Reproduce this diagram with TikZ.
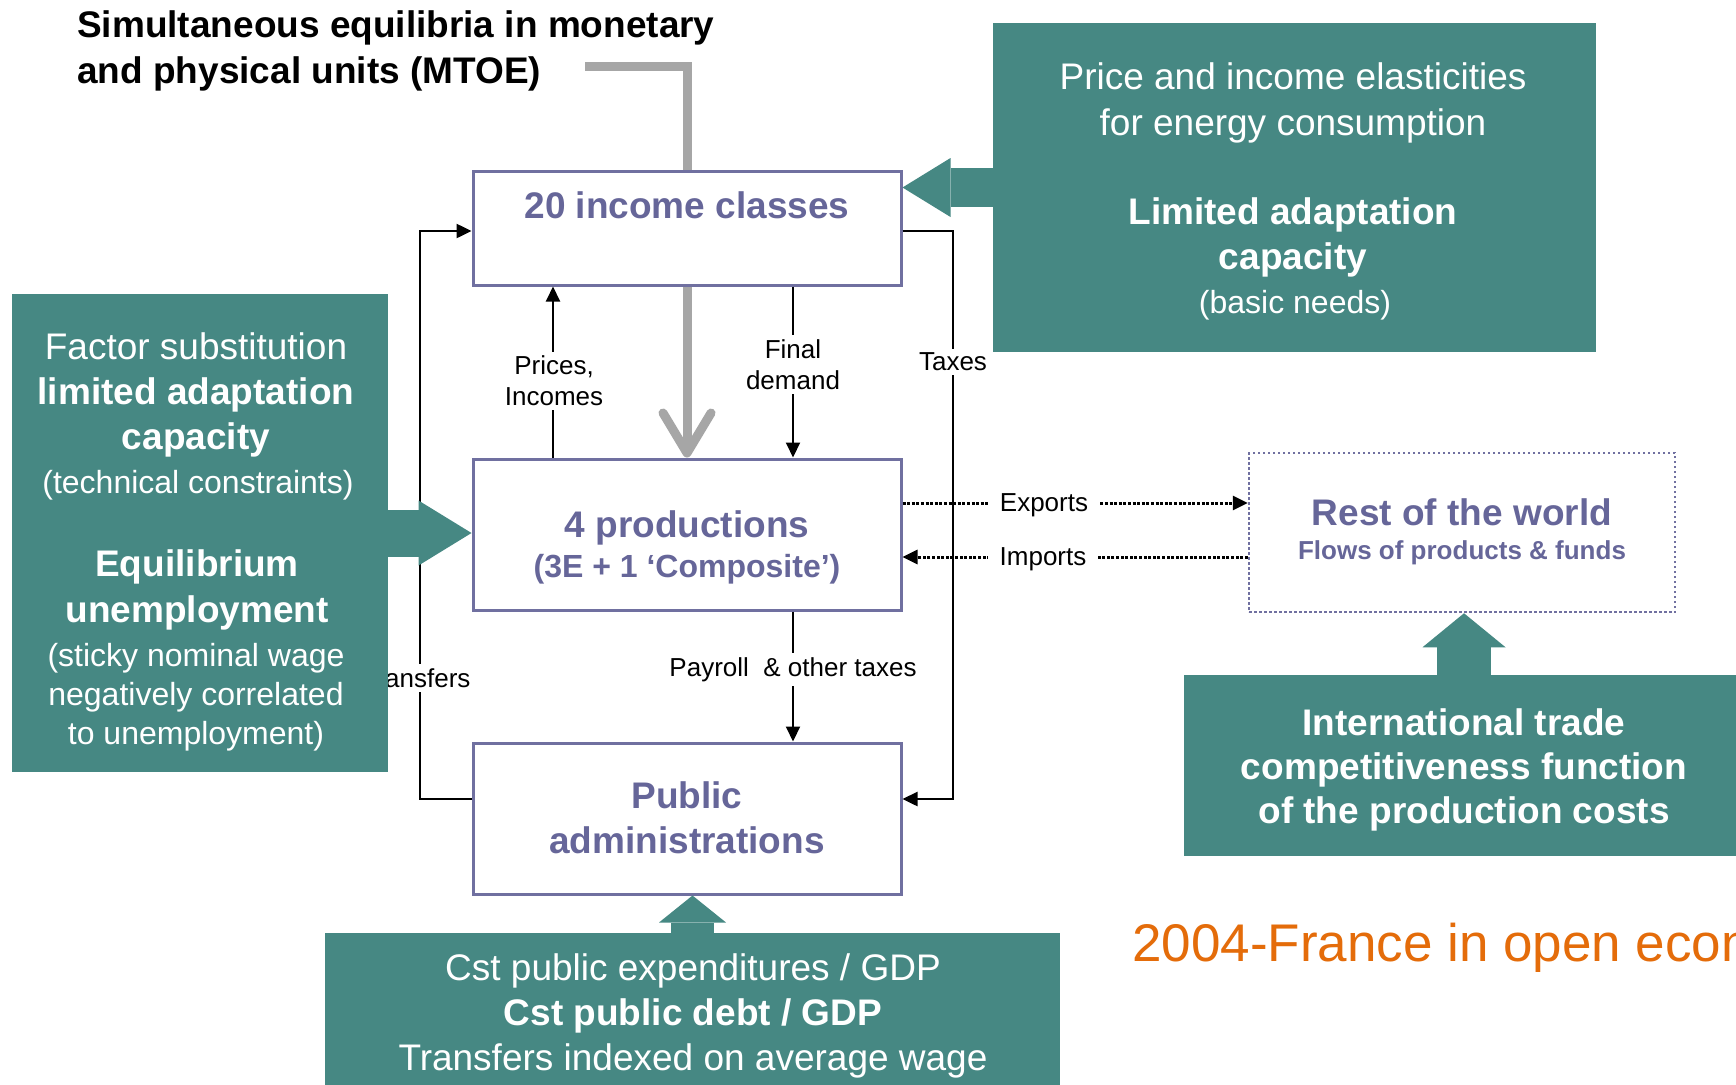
\documentclass[tikz,border=0pt]{standalone}
\usepackage{fontspec}
\setmainfont{Liberation Sans}
\usetikzlibrary{arrows.meta}
\definecolor{tealc}{RGB}{70,136,131}
\definecolor{pcol}{RGB}{112,112,160}
\definecolor{ptxt}{RGB}{102,102,153}
\definecolor{gcol}{RGB}{166,166,166}
\definecolor{ocol}{RGB}{228,108,10}
\begin{document}
\begin{tikzpicture}[x=1pt,y=-1pt,
  pbox/.style={draw=pcol, line width=3pt, fill=white, minimum width=428pt, minimum height=151pt, inner sep=0pt},
  ptx/.style={text=ptxt, font=\bfseries\fontsize{37}{45}\selectfont, align=center, inner sep=0pt},
  lab/.style={fill=white, font=\fontsize{26}{31}\selectfont, align=center, inner sep=4pt},
  tbox/.style={fill=tealc, inner sep=0pt},
  ttx/.style={text=white, font=\fontsize{37}{45}\selectfont, align=center, inner sep=0pt},
  tsm/.style={text=white, font=\fontsize{32}{39}\selectfont, align=center, inner sep=0pt},
  tip/.style={-{Triangle[length=15pt,width=14pt]}},
  flow/.style={line width=2pt, tip},
  loopl/.style={line width=2.5pt, tip},
  dflow/.style={line width=3pt, dash pattern=on 3pt off 1.6pt, tip},
]
\useasboundingbox (0,0) rectangle (1736,1084);
\clip (0,0) rectangle (1736,1084);
\fill[white] (0,0) rectangle (1736,1084);

% gray arrow (behind the income box)
\coordinate (gs) at (585,66);
\node[pbox, draw=none, fill=none] (prodpos) at (687,534.5) {};
\draw[gcol, line width=9pt, -{Straight Barb[length=40pt,width=48pt,round]}] (gs) -| (prodpos.north);

% boxes
\node[pbox, minimum height=114pt] (inc) at (687,228) {};
\node[pbox] (prod) at (687,534.5) {};
\node[pbox] (adm) at (687,818.5) {};
\node[draw=pcol, line width=2.5pt, dash pattern=on 2.5pt off 2.5pt, minimum width=426pt, minimum height=159pt, inner sep=0pt] (row) at (1462,532.5) {};

% connectors
\coordinate (xl) at (420,0);
\coordinate (xr) at (953,0);
\coordinate (xp) at (553,0);
\coordinate (xf) at (793,0);
\coordinate (iw) at ([yshift=-3pt]inc.west);
\coordinate (ie) at ([yshift=-3pt]inc.east);
\coordinate (aw) at ([yshift=19.5pt]adm.west);
\coordinate (ae) at ([yshift=19.5pt]adm.east);
\coordinate (pe1) at ([yshift=31.5pt]prod.east);
\coordinate (pe2) at ([yshift=-22.5pt]prod.east);

\draw[loopl] (aw) -| (xl |- iw) -- (iw);
\draw[loopl] (ie) -| (xr |- ae) -- (ae);
\draw[flow] (xp |- prod.north) -- (xp |- inc.south);
\draw[flow] (xf |- inc.south) -- (xf |- prod.north);
\draw[flow] (xf |- prod.south) -- (xf |- adm.north);
\draw[dflow] (pe1) -- (row.west |- pe1);
\draw[dflow] (row.west |- pe2) -- (pe2);

% labels
\node[lab] (lprice) at (554,381) {Prices,\\Incomes};
\node[lab] (lfinal) at (793,364.5) {Final\\demand};
\node[lab] (ltax) at (953,362) {Taxes};
\node[lab, inner xsep=12pt] (lexp) at (1044,505.5) {Exports};
\node[lab, inner xsep=12pt] (limp) at (1043,559.5) {Imports};
\node[lab] (lpay) at (793,669.5) {Payroll~ \& other taxes};
\node[lab] (ltrans) at (416,678) {Transfers};

% teal boxes and block arrows
\node[tbox, minimum width=603pt, minimum height=329pt] (trb) at (1294.5,187.5) {};
\node[tbox, minimum width=376pt, minimum height=478pt] (lb) at (200,533) {};
\node[tbox, minimum width=735pt, minimum height=157pt] (bb) at (692.5,1011.5) {};
\node[tbox, minimum width=560pt, minimum height=181pt] (itb) at (1464,765.5) {};

\draw[tealc, line width=39pt, -{Triangle[length=48pt,width=59pt,line width=0pt]}] (trb.west) -- (inc.east |- trb.west);
\draw[tealc, line width=47pt, -{Triangle[length=53pt,width=65pt,line width=0pt]}] (lb.east) -- (prod.west |- lb.east);
\draw[tealc, line width=43pt, -{Triangle[length=27pt,width=67pt,line width=0pt]}] (bb.north) -- (bb.north |- adm.south);
\draw[tealc, line width=54pt, -{Triangle[length=34pt,width=83pt,line width=0pt]}] (itb.north) -- (itb.north |- row.south);

% texts
\node[anchor=west, align=left, font=\bfseries\fontsize{37}{46}\selectfont, inner sep=0pt] (title) at (77,50.5) {Simultaneous equilibria in monetary\\and physical units (MTOE)};
\node[ptx] (tinc) at (687,205) {20 income classes};
\node[ptx] (tprod) at (687,528) {4 productions};
\node[ptx, font=\bfseries\fontsize{32}{38}\selectfont] (tprod2) at (687,569) {(3E + 1 ‘Composite’)};
\node[ptx] (tadm) at (687,817.5) {Public\\administrations};
\node[ptx] (trow) at (1462,512) {Rest of the world};
\node[ptx, font=\bfseries\fontsize{26}{31}\selectfont] (trow2) at (1462,552.6) {Flows of products \& funds};

\node[ttx, font=\fontsize{37}{45.5}\selectfont] (ttr) at (1293,170.2) {Price and income elasticities\\for energy consumption\\[43.5pt]\textbf{Limited adaptation}\\\textbf{capacity}};
\node[tsm] (ttr2) at (1295,305) {(basic needs)};
\node[ttx, font=\fontsize{37}{44.75}\selectfont] (tl1) at (196,395) {Factor substitution\\\textbf{limited adaptation}\\\textbf{capacity}};
\node[tsm] (tl1b) at (198,484.8) {(technical constraints)};
\node[ttx, font=\bfseries\fontsize{37}{45.5}\selectfont] (tl2) at (197,590) {Equilibrium\\unemployment};
\node[tsm] (tl2b) at (196,697.5) {(sticky nominal wage\\negatively correlated\\to unemployment)};
\node[ttx] (tbb) at (693,1015.7) {Cst public expenditures / GDP\\\textbf{Cst public debt / GDP}\\Transfers indexed on average wage};
\node[ttx, font=\bfseries\fontsize{37}{44}\selectfont] (titb) at (1464,769.7) {International trade\\competitiveness function\\of the production costs};

\node[anchor=base west, text=ocol, font=\fontsize{53}{60}\selectfont, inner sep=0pt] (tfr) at (1132,961) {2004-France in open economy};
\end{tikzpicture}
\end{document}
